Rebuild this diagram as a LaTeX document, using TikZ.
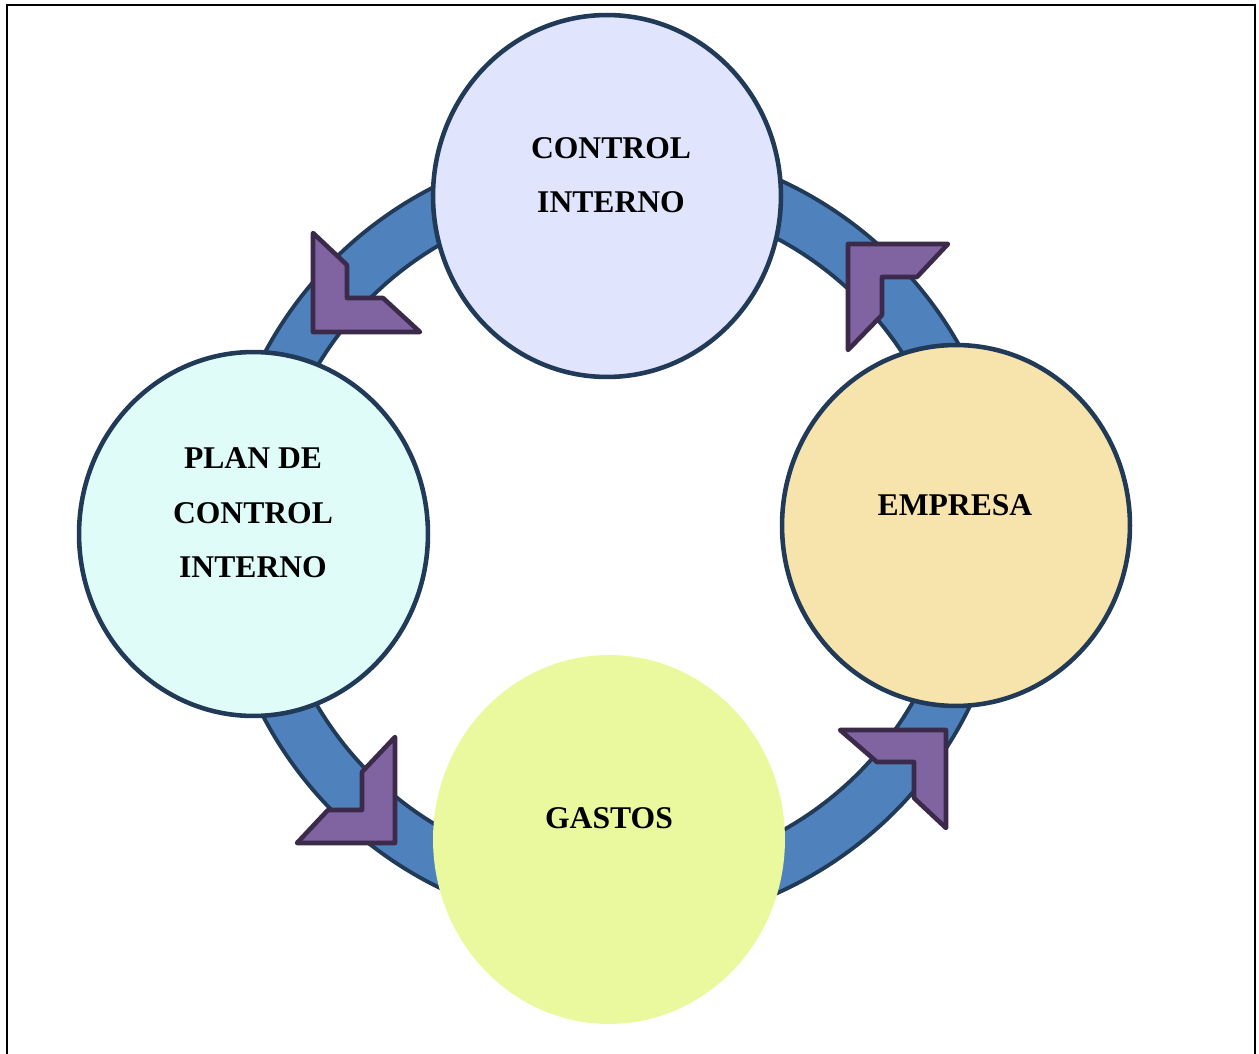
\documentclass[tikz,border=0pt]{standalone}
\usepackage{fontspec}
\setmainfont{Liberation Serif}
\usetikzlibrary{shapes.geometric}
\definecolor{ringblue}{HTML}{4F81BD}
\definecolor{navyline}{HTML}{213A57}
\definecolor{chevfill}{HTML}{8064A2}
\definecolor{chevline}{HTML}{3B2A4A}
\definecolor{fillctrl}{HTML}{E0E4FD}
\definecolor{fillplan}{HTML}{E0FCF9}
\definecolor{fillempr}{HTML}{F7E4AC}
\definecolor{fillgast}{HTML}{EAF99D}
\tikzset{
  bubble/.style={ellipse, inner sep=0pt, outer sep=0pt, draw=navyline, line width=2.6pt},
  lbl/.style={font=\bfseries\fontsize{18}{31}\selectfont, align=center, inner sep=0pt, text=black},
  chev/.style={fill=chevfill, draw=chevline, line width=2.6pt, line join=round},
  ringedge/.style={draw=navyline, line width=2.2pt},
  frameline/.style={draw=black, line width=1.15pt}
}
\begin{document}
\begin{tikzpicture}[x=0.02cm, y=-0.02cm]
\useasboundingbox (0,0) rectangle (1259,1054);
% open frame
\draw[frameline] (7,1070) -- (7,5) -- (1255,5) -- (1255,1070);
% cycle ring
\fill[ringblue, even odd rule] (614,536) ellipse [x radius=395, y radius=392]
  (614,536) ellipse [x radius=343, y radius=338];
\draw[ringedge] (614,536) ellipse [x radius=395, y radius=392];
\draw[ringedge] (614,536) ellipse [x radius=343, y radius=338];
% direction chevrons
\filldraw[chev] (313,233) -- (347,265) -- (347,298) -- (383,298) -- (420,332) -- (313,332) -- cycle;
\filldraw[chev] (848,244) -- (948,244) -- (917,277) -- (882,277) -- (882,315) -- (848,350) -- cycle;
\filldraw[chev] (946,730) -- (946,828) -- (914,798) -- (914,762) -- (877,762) -- (840,730) -- cycle;
\filldraw[chev] (395,843) -- (297,843) -- (328,810) -- (362,810) -- (362,772) -- (395,737) -- cycle;
% stages
\node[bubble, fill=fillctrl, minimum width=6.96cm, minimum height=7.24cm] (ctrl) at (607,196) {};
\node[bubble, fill=fillempr, minimum width=6.96cm, minimum height=7.22cm] (empr) at (956,525.5) {};
\node[bubble, fill=fillplan, minimum width=6.98cm, minimum height=7.28cm] (plan) at (253.5,534) {};
\node[bubble, fill=fillgast, draw=none, minimum width=7.04cm, minimum height=7.38cm] (gast) at (609,839.5) {};
% labels
\node[lbl] (tctrl) at (611,175) {CONTROL\\INTERNO};
\node[lbl] (tempr) at (955,505) {EMPRESA};
\node[lbl] (tplan) at (253,513) {PLAN DE\\CONTROL\\INTERNO};
\node[lbl] (tgast) at (609,818) {GASTOS};
\end{tikzpicture}
\end{document}
